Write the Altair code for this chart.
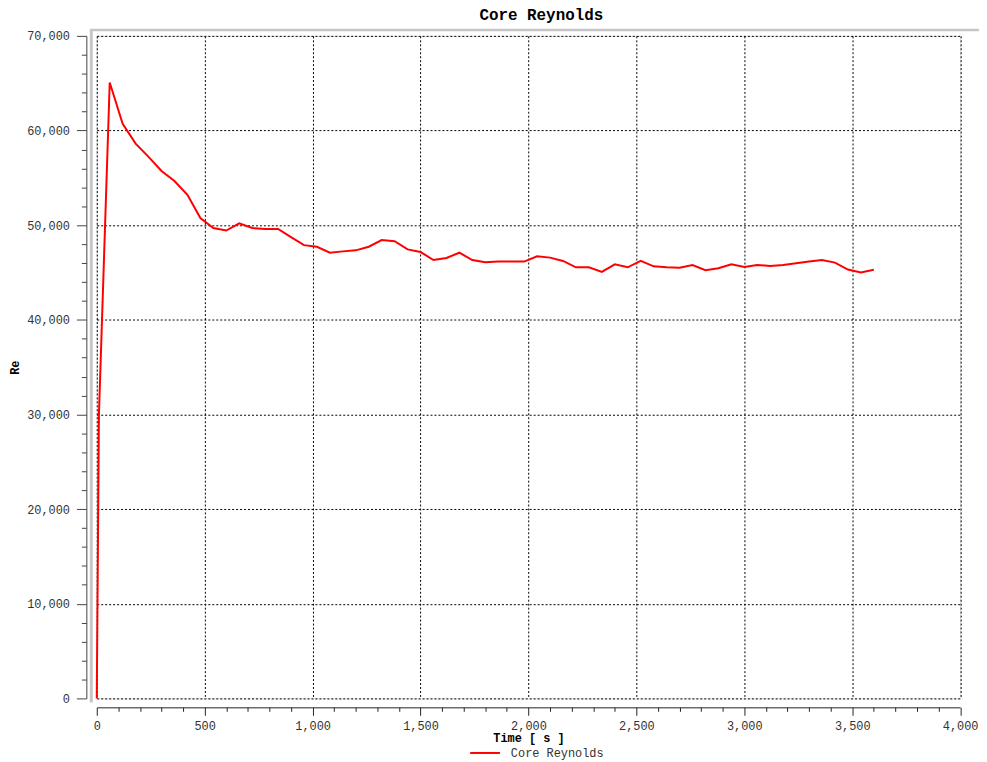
import altair as alt
import pandas as pd

# ---- data ----
times = [0, 10, 60, 120, 180, 240, 300, 360, 420, 480, 540, 600, 660, 720, 780, 840,
         900, 960, 1020, 1080, 1140, 1200, 1260, 1320, 1380, 1440, 1500, 1560, 1620,
         1680, 1740, 1800, 1860, 1920, 1980, 2040, 2100, 2160, 2220, 2280, 2340, 2400,
         2460, 2520, 2580, 2640, 2700, 2760, 2820, 2880, 2940, 3000, 3060, 3120, 3180,
         3240, 3300, 3360, 3420, 3480, 3540, 3600]
reynolds = [0, 30000, 65080, 60700, 58620, 57220, 55720, 54670, 53200, 50750, 49700,
            49430, 50200, 49700, 49600, 49600, 48730, 47890, 47720, 47090, 47230, 47340,
            47720, 48420, 48310, 47440, 47160, 46320, 46530, 47090, 46320, 46080, 46150,
            46150, 46150, 46710, 46570, 46220, 45550, 45550, 45060, 45860, 45550, 46220,
            45650, 45550, 45500, 45790, 45240, 45450, 45860, 45580, 45790, 45690, 45790,
            45970, 46150, 46320, 46040, 45310, 45000, 45280]
series_name = "Core Reynolds"
chart_title = "Core Reynolds"
x_title = "Time [ s ]"
y_title = "Re"
x_tick_values = [i * 100 for i in range(41)]      # minor every 100, labelled every 500
y_tick_values = [i * 2000 for i in range(36)]     # minor every 2000, labelled every 10000
x_domain = [0, 4000]
y_domain = [0, 70000]

df = pd.DataFrame({"t": times, "re": reynolds, "series": [series_name] * len(times)})

FONT = "Liberation Mono"
W, H = 870.5, 668

x_axis = alt.Axis(
    values=x_tick_values, format=",d",
    labelExpr="datum.value % 500 === 0 ? datum.label : ''",
    tickSize={"condition": {"test": "datum.value % 500 === 0", "value": 8}, "value": 4},
    gridOpacity={"condition": {"test": "datum.value % 500 === 0", "value": 1}, "value": 0},
    grid=True, gridColor="#000000", gridDash=[2, 2], gridWidth=1,
    offset=9, domainColor="#222222", tickColor="#222222", labelColor="#333333",
    labelFont=FONT, labelFontSize=12, labelPadding=5, labelFlush=False, labelOverlap=False,
    title=x_title, titleFont=FONT, titleFontSize=12, titleFontWeight="bold",
    titleColor="#000000", titlePadding=1,
)
y_axis = alt.Axis(
    values=y_tick_values, format=",d",
    labelExpr="datum.value % 10000 === 0 ? datum.label : ''",
    tickSize={"condition": {"test": "datum.value % 10000 === 0", "value": 10}, "value": 5},
    gridOpacity={"condition": {"test": "datum.value % 10000 === 0", "value": 1}, "value": 0},
    grid=True, gridColor="#000000", gridDash=[2, 2], gridWidth=1,
    offset=10.5, domainColor="#444444", tickColor="#444444", labelColor="#333333",
    labelFont=FONT, labelFontSize=12, labelPadding=7, labelFlush=False, labelOverlap=False,
    title=y_title, titleFont=FONT, titleFontSize=12, titleFontWeight="bold",
    titleColor="#000000", titleAngle=270, titleX=-72, titleY=334,
    titleAlign="center", titleBaseline="middle",
)

line = alt.Chart(df).mark_line(strokeWidth=2).encode(
    x=alt.X("t:Q", scale=alt.Scale(domain=x_domain, nice=False, zero=False), axis=x_axis),
    y=alt.Y("re:Q", scale=alt.Scale(domain=y_domain, nice=False), axis=y_axis),
    color=alt.Color(
        "series:N",
        scale=alt.Scale(domain=[series_name], range=["#ff0000"]),
        legend=alt.Legend(
            title=None, orient="none", legendX=375.5, legendY=707, padding=0,
            symbolType="stroke", symbolSize=900, symbolStrokeWidth=2,
            labelFont=FONT, labelFontSize=12, labelColor="#333333", labelOffset=10,
        ),
    ),
    order="t:Q",
)

frame_df = pd.DataFrame({"k": [0]})
left_frame = alt.Chart(frame_df).mark_rule(color="#c6c6c6", strokeWidth=3).encode(
    x=alt.value(-5.5), y=alt.value(-6), y2=alt.value(672)
)
top_frame = alt.Chart(frame_df).mark_rule(color="#c6c6c6", strokeWidth=2.5).encode(
    x=alt.value(-7), x2=alt.value(900), y=alt.value(-6)
)

chart = alt.layer(left_frame, top_frame, line).properties(
    width=W, height=H,
    title=alt.TitleParams(chart_title, font=FONT, fontSize=16, fontWeight="bold",
                          color="#000000", anchor="middle", dx=13, dy=14.5, offset=7.5,
                          baseline="alphabetic"),
    autosize=alt.AutoSizeParams(type="none"),
    padding={"left": 89.5, "top": 25, "right": 19, "bottom": 59},
).configure_view(stroke=None).configure(background="#ffffff")

chart.save("out.html", embed_options={"renderer": "svg", "actions": False})
